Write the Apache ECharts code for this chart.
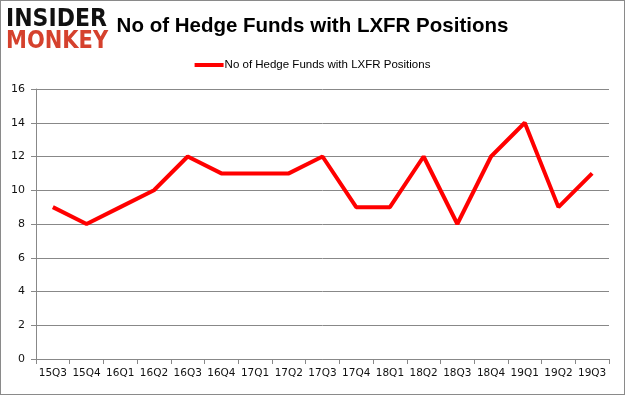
<!DOCTYPE html>
<html>
<head>
<meta charset="utf-8">
<script src="https://cdn.jsdelivr.net/npm/echarts@6/dist/echarts.min.js"></script>
<style>
html,body{margin:0;padding:0;background:#fff;}
#c{width:625px;height:395px;box-sizing:border-box;border:1px solid #8a8a8a;}
</style>
</head>
<body>
<div id="c"></div>
<script>
const categories = ['15Q3','15Q4','16Q1','16Q2','16Q3','16Q4','17Q1','17Q2','17Q3','17Q4','18Q1','18Q2','18Q3','18Q4','19Q1','19Q2','19Q3'];
const hedgeFunds = [9, 8, 9, 10, 12, 11, 11, 11, 12, 9, 9, 12, 8, 12, 14, 9, 11];
const yTicks = { min: 0, max: 16, interval: 2 };
const seriesName = 'No of Hedge Funds with LXFR Positions';
const titleText = 'No of Hedge Funds with LXFR Positions';

const chart = echarts.init(document.getElementById('c'), null, { renderer: 'canvas' });
const axisFont = { fontFamily: 'DejaVu Sans', fontSize: 10.5, color: '#111' };
chart.setOption({
  animation: false,
  title: {
    text: titleText,
    left: 'center',
    top: 10,
    textStyle: { fontFamily: 'Liberation Sans', fontWeight: 'bold', fontSize: 20.5, color: '#000' }
  },
  legend: {
    top: 53,
    left: 'center',
    icon: 'rect',
    itemWidth: 29,
    itemHeight: 4,
    itemGap: 4,
    textStyle: { fontFamily: 'Liberation Sans', fontSize: 11.5, color: '#000', padding: [0, 0, 0, -4] },
    data: [seriesName]
  },
  grid: { left: 35, right: 15, top: 88, bottom: 35 },
  xAxis: {
    type: 'category',
    data: categories,
    boundaryGap: true,
    axisLine: { lineStyle: { color: '#888', width: 1 } },
    axisTick: { show: true, length: 5, lineStyle: { color: '#888' } },
    axisLabel: Object.assign({ margin: 9, interval: 0 }, axisFont),
    splitLine: { show: false }
  },
  yAxis: {
    type: 'value',
    min: yTicks.min,
    max: yTicks.max,
    interval: yTicks.interval,
    axisLine: { show: true, lineStyle: { color: '#888', width: 1 } },
    axisTick: { show: true, length: 5, lineStyle: { color: '#888' } },
    axisLabel: Object.assign({ margin: 11 }, axisFont, { fontSize: 11 }),
    splitLine: { show: true, lineStyle: { color: '#888', width: 1 } }
  },
  series: [{
    name: seriesName,
    type: 'line',
    data: hedgeFunds,
    showSymbol: false,
    symbol: 'none',
    itemStyle: { color: '#ff0000' },
    lineStyle: { color: '#ff0000', width: 4 }
  }],
  graphic: [
    {
      type: 'text', left: 5, top: 6, scaleY: 1.15,
      style: { text: 'INSIDER', fill: '#111', font: 'bold 22px "DejaVu Sans"' }
    },
    {
      type: 'text', left: 5, top: 29, scaleY: 1.15,
      style: { text: 'MONKEY', fill: '#d5412d', font: 'bold 21px "DejaVu Sans"' }
    }
  ]
});
</script>
</body>
</html>
